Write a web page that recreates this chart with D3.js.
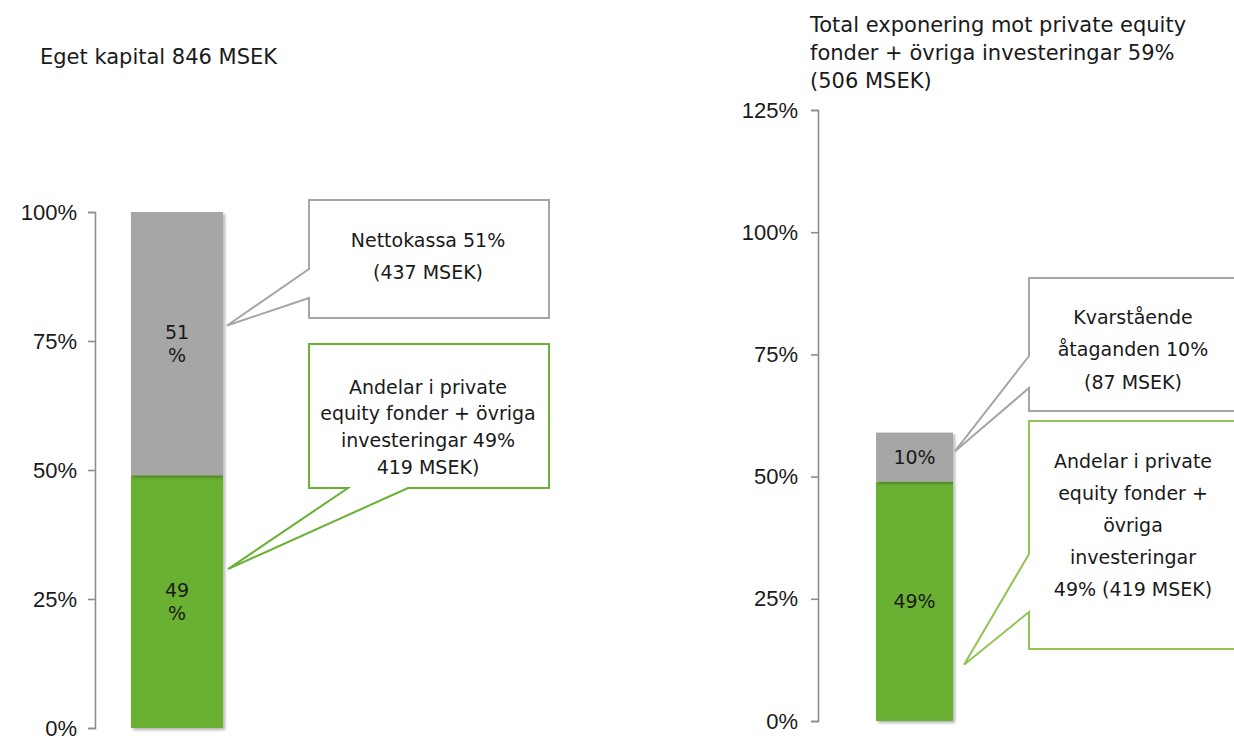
<!DOCTYPE html>
<html>
<head>
<meta charset="utf-8">
<script src="https://cdn.jsdelivr.net/npm/d3@7"></script>
<style>
  body { margin: 0; background: #fff; }
  svg { font-family: "DejaVu Sans", Verdana, sans-serif; fill: #1a1a1a; }
  .axis text { font-size: 22px; fill: #1a1a1a; }
  .axis path, .axis line { stroke: #8c8c8c; stroke-width: 1.6; }
</style>
</head>
<body>
<svg id="chart" width="1234" height="736"></svg>
<script>
// Data: shares of equity (left) and total exposure (right)
var leftCategory = ["Eget kapital"],
    leftSegments = [
        { name: "Andelar", value: 0.49, label: ["49", "%"] },
        { name: "Nettokassa", value: 0.51, label: ["51", "%"] }
    ],
    leftTicks = [0, 0.25, 0.5, 0.75, 1];

var rightCategory = ["Total exponering"],
    rightSegments = [
        { name: "Andelar", value: 0.49, label: ["49%"] },
        { name: "Kvarstående", value: 0.10, label: ["10%"] }
    ],
    rightTicks = [0, 0.25, 0.5, 0.75, 1, 1.25];

var leftCallouts = [
    "Nettokassa 51%|(437 MSEK)",
    "Andelar i private|equity fonder + övriga|investeringar 49%|419 MSEK)"
];
var rightCallouts = [
    "Kvarstående|åtaganden 10%|(87 MSEK)",
    "Andelar i private|equity fonder +|övriga|investeringar|49% (419 MSEK)"
];

var colors = { Andelar: "#6ab033", Nettokassa: "#a6a6a6", "Kvarstående": "#a6a6a6" };

var svg = d3.select("#chart");

// skugga under staplarna
var defs = svg.append("defs");
defs.append("filter").attr("id", "shadow")
    .attr("x", "-10%").attr("y", "-10%").attr("width", "130%").attr("height", "130%")
    .append("feDropShadow")
    .attr("dx", 2).attr("dy", 2).attr("stdDeviation", 1.5)
    .attr("flood-color", "#000").attr("flood-opacity", 0.3);

function stack(segments) {
    var acc = 0;
    return segments.map(function (d) {
        var s = { name: d.name, label: d.label, y0: acc, y1: acc + d.value };
        acc += d.value;
        return s;
    });
}

function drawBar(cfg) {
    var x = d3.scaleBand().domain(cfg.category).range(cfg.xRange).padding(cfg.padding),
        y = d3.scaleLinear().domain(cfg.yDomain).range(cfg.yRange);

    var g = svg.append("g");

    g.append("g")
        .attr("class", "axis")
        .attr("transform", "translate(" + cfg.xRange[0] + ",0)")
        .call(d3.axisLeft(y).tickValues(cfg.ticks).tickSize(7).tickPadding(cfg.tickPad)
            .tickFormat(d3.format(".0%")));

    var data = stack(cfg.segments);

    g.selectAll(".bar")
        .data(data)
        .enter().append("rect")
        .attr("class", "bar")
        .attr("x", x(cfg.category[0]))
        .attr("width", x.bandwidth())
        .attr("y", function (d) { return y(d.y1); })
        .attr("height", function (d) { return y(d.y0) - y(d.y1); })
        .attr("fill", function (d) { return colors[d.name]; })
        .attr("filter", "url(#shadow)");

    var cx = x(cfg.category[0]) + x.bandwidth() / 2;
    g.selectAll(".lbl")
        .data(data)
        .enter().append("text")
        .attr("class", "lbl")
        .attr("text-anchor", "middle")
        .attr("font-size", 19)
        .each(function (d) {
            var t = d3.select(this),
                mid = y((d.y0 + d.y1) / 2),
                n = d.label.length,
                lh = 23;
            d.label.forEach(function (s, i) {
                t.append("tspan")
                    .attr("x", cx)
                    .attr("y", mid + (i - (n - 1) / 2) * lh)
                    .attr("dy", "0.35em")
                    .text(s);
            });
        });

    return { x: x, y: y, right: x(cfg.category[0]) + x.bandwidth() };
}

function callout(path, stroke, lines, tx, ty, lh) {
    svg.append("path")
        .attr("d", path)
        .attr("fill", "#fff")
        .attr("stroke", stroke)
        .attr("stroke-width", 2);
    var t = svg.append("text")
        .attr("text-anchor", "middle")
        .attr("font-size", 19);
    lines.split("|").forEach(function (s, i) {
        t.append("tspan").attr("x", tx).attr("y", ty + i * lh).attr("dy", "0.35em").text(s);
    });
}

// Vänster diagram
var L = drawBar({
    category: leftCategory, segments: leftSegments, ticks: leftTicks, tickPad: 11,
    xRange: [95, 259], padding: 0.281, yDomain: [0, 1], yRange: [728, 212]
});

svg.append("text").attr("x", 40).attr("y", 64).attr("font-size", 21)
    .text("Eget kapital 846 MSEK");

var lt1x = L.right + 4, lt1y = L.y(0.78);
callout("M309,200H549V318H309V298L" + lt1x + "," + lt1y + "L309,269Z",
    "#a6a6a6", leftCallouts[0], 428, 240, 32);
var lt2x = L.right + 5, lt2y = L.y(0.308);
callout("M309,344H549V488H408L" + lt2x + "," + lt2y + "L348,488H309Z",
    "#6ab033", leftCallouts[1], 428, 387, 26.7);

// Höger diagram
var R = drawBar({
    category: rightCategory, segments: rightSegments, ticks: rightTicks, tickPad: 13,
    xRange: [818, 1011], padding: 0.4296, yDomain: [0, 1.25], yRange: [721, 110]
});

var title = svg.append("text").attr("font-size", 21);
["Total exponering mot private equity", "fonder + övriga investeringar 59%", "(506 MSEK)"]
    .forEach(function (s, i) {
        title.append("tspan").attr("x", 810).attr("y", 32 + i * 28).text(s);
    });

var rt1x = R.right + 2, rt1y = R.y(0.552);
callout("M1029,278H1240V411H1029V388L" + rt1x + "," + rt1y + "L1029,356Z",
    "#a6a6a6", rightCallouts[0], 1133, 317, 32.5);
var rt2x = R.right + 11, rt2y = R.y(0.115);
callout("M1029,421H1240V649H1029V612L" + rt2x + "," + rt2y + "L1029,554Z",
    "#92c353", rightCallouts[1], 1133, 461, 32);
</script>
</body>
</html>
